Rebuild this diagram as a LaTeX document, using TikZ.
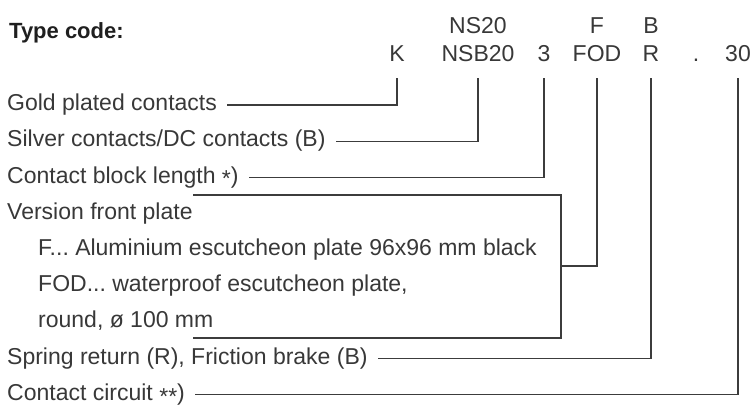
\documentclass[tikz,border=0pt]{standalone}
\usepackage{fontspec}
\setmainfont{Liberation Sans}
\usetikzlibrary{positioning}
\definecolor{txtgray}{HTML}{383838}
\definecolor{linegray}{HTML}{3C3C3C}
\newcommand{\lowstar}{\raisebox{-0.3ex}{*}}
\tikzstyle{lbl} = [inner sep=0pt, anchor=west, text height=16.5pt, text depth=5pt, text=txtgray]
\tikzstyle{code} = [inner sep=0pt, text height=16.5pt, text depth=0pt, text=txtgray]
\tikzstyle{link} = [draw=linegray, line width=1.3pt]
\begin{document}
\frenchspacing
\begin{tikzpicture}[x=1pt, y=-1pt, node distance=36.2pt and 0pt, on grid, font=\fontsize{23}{27}\selectfont]
    \useasboundingbox (0,0) rectangle (752,408);
    \node [code, anchor=west, font=\fontsize{22}{26}\selectfont\bfseries, text=black!88] (title) at (9,30) {Type code:};

    % code letters
    \node [code] (k) at (397,53) {K};
    \node [code, right=81pt of k] (nsb) {NSB20};
    \node [code, right=66pt of nsb] (len) {3};
    \node [code, right=53pt of len] (fod) {FOD};
    \node [code, right=54pt of fod] (ret) {R};
    \node [code, right=45pt of ret] (dot) {.};
    \node [code, right=42pt of dot] (circ) {30};
    \node [code, above=28pt of nsb] (ns) {NS20};
    \node [code, above=28pt of fod] (f) {F};
    \node [code, above=28pt of ret] (b) {B};

    % explanations
    \node [lbl] (gold) at (7,105) {Gold plated contacts};
    \node [lbl, below=of gold.west, anchor=west] (silver) {Silver contacts/DC contacts (B)};
    \node [lbl, below=of silver.west, anchor=west] (blen) {Contact block length \lowstar)};
    \node [lbl, below=of blen.west, anchor=west] (version) {Version front plate};
    \node [lbl, below=of version.west, anchor=west, xshift=31pt] (plf) {F... Aluminium escutcheon plate 96x96 mm black};
    \node [lbl, below=of plf.west, anchor=west] (plfod) {FOD... waterproof escutcheon plate,};
    \node [lbl, below=of plfod.west, anchor=west] (round) {round, ø 100 mm};
    \node [lbl, below=of round.west, anchor=west, xshift=-31pt] (spring) {Spring return (R), Friction brake (B)};
    \node [lbl, below=of spring.west, anchor=west] (contact) {Contact circuit \lowstar\lowstar)};

    % bracket round the front plate
    \coordinate (brtop) at (193,195);
    \coordinate (brend) at (561,195);
    \coordinate (brbot) at (193,338);
    \coordinate (brjoin) at (561,266);
    \draw [link] (brtop) -- (brend) |- (brbot);

    \draw [link] ([yshift=-16.75pt]k.south) |- ([xshift=10pt]gold.east);
    \draw [link] ([yshift=-16.75pt]nsb.south) |- ([xshift=10pt]silver.east);
    \draw [link] ([yshift=-16.75pt]len.south) |- ([xshift=10pt]blen.east);
    \draw [link] ([yshift=-16.75pt]fod.south) |- (brjoin);
    \draw [link] ([yshift=-16.75pt]ret.south) |- ([xshift=10pt]spring.east);
    \draw [link] ([yshift=-16.75pt]circ.south) |- ([xshift=10pt]contact.east);
\end{tikzpicture}
\end{document}
